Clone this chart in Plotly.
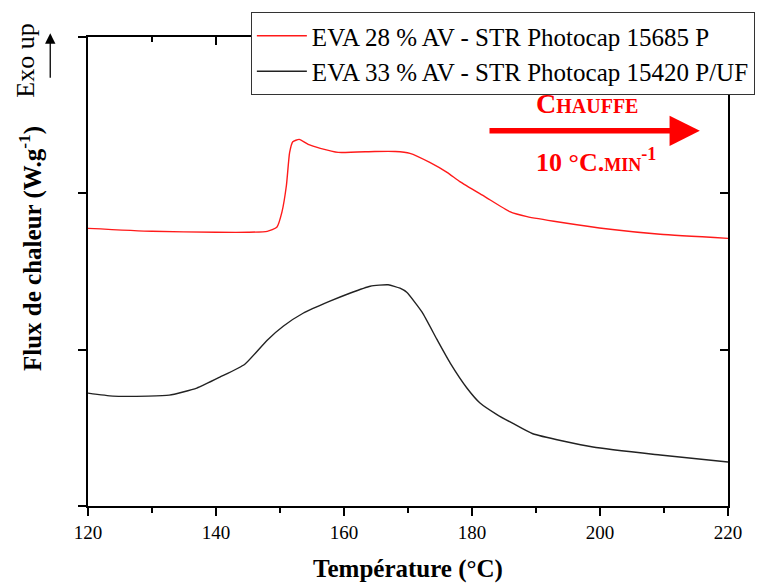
import plotly.graph_objects as go

# EVA 28 % - Photocap 15685 P (red)
temp_red = [120, 130, 140, 145, 148, 149.5, 150.3, 151.0, 151.5, 152.0, 153.0, 154.4,
            156.3, 159.1, 164.8, 168.0, 170.3, 173.4, 176.1, 178.1, 182.0, 185.9,
            188.6, 193.8, 201.6, 209.4, 220]
flux_red = [1.776, 1.757, 1.751, 1.751, 1.757, 1.783, 1.88, 2.05, 2.26, 2.33, 2.345, 2.313,
            2.288, 2.262, 2.268, 2.268, 2.256, 2.198, 2.134, 2.075, 1.979, 1.883,
            1.851, 1.815, 1.770, 1.738, 1.712]

# EVA 33 % - Photocap 15420 P/UF (black)
temp_blk = [120, 123.9, 129.4, 132.7, 137.0, 140.6, 144.5, 148.0, 150.5, 153.6, 157.8,
            160.9, 164.1, 166.9, 168.75, 169.8, 172.2, 174.5, 176.6, 179.2, 181.25,
            183.9, 186.4, 189.5, 198.9, 209.4, 220]
flux_blk = [0.722, 0.703, 0.703, 0.709, 0.754, 0.824, 0.907, 1.061, 1.150, 1.233, 1.310,
            1.361, 1.406, 1.415, 1.393, 1.367, 1.240, 1.067, 0.914, 0.755, 0.659,
            0.585, 0.528, 0.462, 0.377, 0.326, 0.281]

labels = ["EVA 28 % AV - STR Photocap 15685 P", "EVA 33 % AV - STR Photocap 15420 P/UF"]

SERIF = "Liberation Serif"

fig = go.Figure()
fig.add_trace(go.Scatter(x=temp_red, y=flux_red, mode="lines", name=labels[0],
                         line=dict(color="#ff1a1a", width=1.4, shape="spline", smoothing=0.5)))
fig.add_trace(go.Scatter(x=temp_blk, y=flux_blk, mode="lines", name=labels[1],
                         line=dict(color="#222222", width=1.4, shape="spline", smoothing=0.5)))
# dummy trace for the mirrored top/right axes
fig.add_trace(go.Scatter(x=[None], y=[None], xaxis="x2", yaxis="y2", showlegend=False,
                         hoverinfo="skip"))

axis_common = dict(showline=True, linecolor="black", linewidth=2, showgrid=False,
                   zeroline=False, tickcolor="black", tickwidth=2, automargin=False)

# page body has an 8px margin, so the figure starts at (8, 8)
fig.update_layout(
    width=771, height=575,
    margin=dict(l=80, r=51, t=29, b=77, autoexpand=False),
    plot_bgcolor="white", paper_bgcolor="white",
    font=dict(family=SERIF, color="black"),
    xaxis=dict(range=[120, 220], dtick=20, ticks="outside", ticklen=8,
               tickfont=dict(size=19, family=SERIF),
               minor=dict(dtick=10, ticks="outside", ticklen=5, tickcolor="black", tickwidth=1.5),
               title=dict(text="<b>Température (°C)</b>", font=dict(size=25, family=SERIF), standoff=22),
               **axis_common),
    yaxis=dict(range=[0, 3], dtick=1, ticks="outside", ticklen=8, showticklabels=False,
               **axis_common),
    xaxis2=dict(range=[120, 220], overlaying="x", side="top", anchor="y", dtick=20,
                ticks="inside", ticklen=8, showticklabels=False,
                minor=dict(dtick=10, ticks="inside", ticklen=5, tickcolor="black", tickwidth=1.5),
                **axis_common),
    yaxis2=dict(range=[0, 3], overlaying="y", side="right", anchor="x", dtick=1,
                ticks="inside", ticklen=8, showticklabels=False, **axis_common),
    legend=dict(xref="container", yref="container", x=0.315, y=0.993,
                xanchor="left", yanchor="top",
                bgcolor="white", bordercolor="#333333", borderwidth=1, itemwidth=50,
                font=dict(size=25, family=SERIF), tracegroupgap=0),
    showlegend=True,
)

fig.add_annotation(xref="paper", yref="paper", x=-0.089, y=0.548, textangle=-90,
                   xanchor="center", yanchor="middle",
                   text="<b>Flux de chaleur (W.g<sup>-1</sup>)</b>", showarrow=False,
                   font=dict(size=25, family=SERIF))
fig.add_annotation(xref="paper", yref="paper", x=-0.098, y=0.95, textangle=-90,
                   xanchor="center", yanchor="middle",
                   text="Exo up", showarrow=False, font=dict(size=26, family=SERIF))
fig.add_annotation(xref="paper", yref="paper", x=-0.059, y=1.008, ax=0, ay=46,
                   text="", showarrow=True, arrowhead=2, arrowsize=1.6, arrowwidth=1.3,
                   arrowcolor="black")

# heating direction arrow
fig.add_annotation(x=215.6, y=2.40, ax=182.5, ay=2.40, xref="x", yref="y", axref="x", ayref="y",
                   text="", showarrow=True, arrowhead=2, arrowsize=1.1, arrowwidth=5.5,
                   arrowcolor="#ff0000")
fig.add_annotation(x=198.0, y=2.575, xref="x", yref="y", showarrow=False,
                   text="<b>Chauffe</b>",
                   font=dict(size=28, family=SERIF, color="#ff0000", variant="small-caps"))
fig.add_annotation(x=199.4, y=2.21, xref="x", yref="y", showarrow=False,
                   text="<b>10 °C.min<sup>-1</sup></b>",
                   font=dict(size=26, family=SERIF, color="#ff0000", variant="small-caps"))

fig.write_html("out.html")
